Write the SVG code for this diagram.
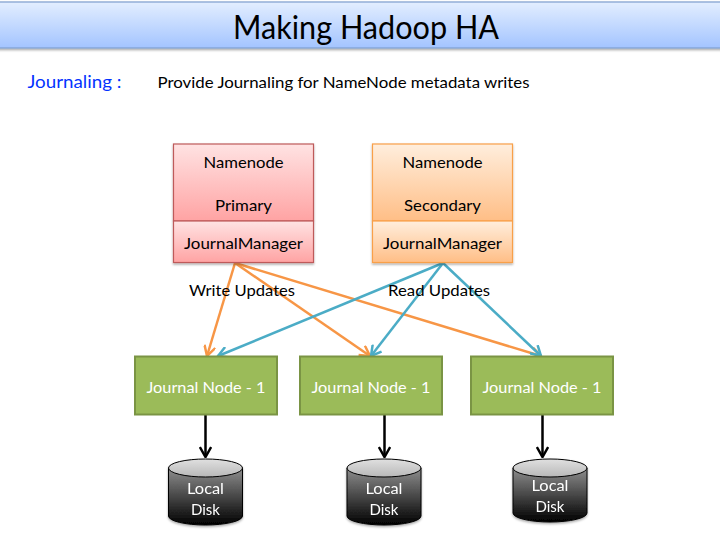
<svg xmlns="http://www.w3.org/2000/svg" width="720" height="540" viewBox="0 0 720 540">
<style>
text{font-family:Lato,"Noto Sans",sans-serif;text-anchor:middle;fill:#000;font-size:16px}
.w{fill:#fff}
.jn{fill:#9bbb59;stroke:#7a9444;stroke-width:2}
.red{fill:url(#gr);stroke:#be5a5a;stroke-width:1.2}
.ora{fill:url(#go);stroke:#f8a04a;stroke-width:1.2}
.o{stroke:#f79646;stroke-width:2.5;fill:none;marker-end:url(#ao)}
.b{stroke:#4bacc6;stroke-width:2.5;fill:none;marker-end:url(#ab)}
.k{stroke:#000;stroke-width:2.5;fill:none;marker-end:url(#ak)}
.cyl{fill:url(#gk);stroke:#000;stroke-width:1}
.top{fill:url(#gc);stroke:#000;stroke-width:1}
</style>
<defs>
<linearGradient id="gt" x1="0" y1="0" x2="0" y2="1"><stop offset="0" stop-color="#e3eeff"/><stop offset="1" stop-color="#a3c4ff"/></linearGradient>
<linearGradient id="gr" x1="0" y1="0" x2="0" y2="1"><stop offset="0" stop-color="#ffe3e3"/><stop offset="1" stop-color="#ffa3a3"/></linearGradient>
<linearGradient id="go" x1="0" y1="0" x2="0" y2="1"><stop offset="0" stop-color="#ffeedd"/><stop offset="1" stop-color="#ffbe86"/></linearGradient>
<linearGradient id="gk" x1="0" y1="0" x2="0" y2="1"><stop offset="0" stop-color="#8e8e8e"/><stop offset="1" stop-color="#000"/></linearGradient>
<linearGradient id="gc" x1="0" y1="0" x2="0" y2="1"><stop offset="0" stop-color="#e0e0e0"/><stop offset="1" stop-color="#b8b8b8"/></linearGradient>
<filter id="sh" x="-5%" y="-10%" width="110%" height="125%"><feDropShadow dx="0" dy="1.5" stdDeviation="1.2" flood-color="#000" flood-opacity=".35"/></filter>
<marker id="ao" viewBox="0 0 10 10" refX="9" refY="5" markerWidth="5" markerHeight="5" orient="auto"><path d="M1 .5L9 5L1 9.500" fill="none" stroke="#f79646" stroke-width="2"/></marker>
<marker id="ab" viewBox="0 0 10 10" refX="9" refY="5" markerWidth="5" markerHeight="5" orient="auto"><path d="M1 .5L9 5L1 9.500" fill="none" stroke="#4bacc6" stroke-width="2"/></marker>
<marker id="ak" viewBox="0 0 10 10" refX="9" refY="5" markerWidth="5" markerHeight="5" orient="auto"><path d="M1 .5L9 5L1 9.500" fill="none" stroke="#000" stroke-width="2"/></marker>
</defs>
<g id="title"><rect x="-2" y="2" width="724" height="46" fill="url(#gt)" stroke="#7f9fcf" stroke-width="1.2" filter="url(#sh)"/>
<text x="366" y="39" style="font-size:32px" textLength="266" lengthAdjust="spacingAndGlyphs">Making Hadoop HA</text></g>
<g id="subtitle"><text x="74.500" y="88" style="font-size:18px;fill:#0433ff" textLength="94" lengthAdjust="spacingAndGlyphs">Journaling :</text>
<text x="343.500" y="88" textLength="372" lengthAdjust="spacingAndGlyphs">Provide Journaling for NameNode metadata writes</text></g>
<g id="connectors">
<path class="o" d="M235 263L207 356"/><path class="o" d="M235 263L370 356"/><path class="o" d="M235 263L541 356"/>
<path class="b" d="M443 263L218 356"/><path class="b" d="M443 263L371 356"/><path class="b" d="M443 263L541 356"/>
<path class="k" d="M205.500 414V457"/><path class="k" d="M384.500 414V457"/><path class="k" d="M542.500 414V457"/>
</g>
<g id="labels"><text x="242" y="296" textLength="106" lengthAdjust="spacingAndGlyphs">Write Updates</text><text x="439" y="296" textLength="102" lengthAdjust="spacingAndGlyphs">Read Updates</text></g>
<g id="nn-primary"><g filter="url(#sh)"><rect class="red" x="173.500" y="144" width="140" height="77"/><rect class="red" x="173.500" y="221" width="140" height="41.500"/></g>
<text x="243.500" y="168" textLength="80" lengthAdjust="spacingAndGlyphs">Namenode</text><text x="243.500" y="211" textLength="57" lengthAdjust="spacingAndGlyphs">Primary</text><text x="243.500" y="249" textLength="119" lengthAdjust="spacingAndGlyphs">JournalManager</text></g>
<g id="nn-secondary"><g filter="url(#sh)"><rect class="ora" x="372.500" y="144" width="140" height="77"/><rect class="ora" x="372.500" y="221" width="140" height="41.500"/></g>
<text x="442.500" y="168" textLength="80" lengthAdjust="spacingAndGlyphs">Namenode</text><text x="442.500" y="211" textLength="77" lengthAdjust="spacingAndGlyphs">Secondary</text><text x="442.500" y="249" textLength="119" lengthAdjust="spacingAndGlyphs">JournalManager</text></g>
<g id="jn1"><rect class="jn" x="135" y="356.500" width="142" height="58"/><text class="w" x="206" y="393" textLength="119" lengthAdjust="spacingAndGlyphs">Journal Node - 1</text></g>
<g id="jn2"><rect class="jn" x="300" y="356.500" width="142" height="58"/><text class="w" x="371" y="393" textLength="119" lengthAdjust="spacingAndGlyphs">Journal Node - 1</text></g>
<g id="jn3"><rect class="jn" x="471" y="356.500" width="142" height="58"/><text class="w" x="542" y="393" textLength="119" lengthAdjust="spacingAndGlyphs">Journal Node - 1</text></g>
<g id="disk1" filter="url(#sh)"><path class="cyl" d="M168.500 468V516A37 9 0 0 0 242.500 516V468Z"/><ellipse class="top" cx="205.500" cy="468" rx="37" ry="9"/><text class="w" x="205.500" y="494" textLength="37" lengthAdjust="spacingAndGlyphs">Local</text><text class="w" x="205.500" y="514.500" textLength="29" lengthAdjust="spacingAndGlyphs">Disk</text></g>
<g id="disk2" filter="url(#sh)"><path class="cyl" d="M347 468V516A37 9 0 0 0 421 516V468Z"/><ellipse class="top" cx="384" cy="468" rx="37" ry="9"/><text class="w" x="384" y="494" textLength="37" lengthAdjust="spacingAndGlyphs">Local</text><text class="w" x="384" y="514.500" textLength="29" lengthAdjust="spacingAndGlyphs">Disk</text></g>
<g id="disk3" filter="url(#sh)"><path class="cyl" d="M513 468V513A37 9 0 0 0 587 513V468Z"/><ellipse class="top" cx="550" cy="468" rx="37" ry="9"/><text class="w" x="550" y="491" textLength="37" lengthAdjust="spacingAndGlyphs">Local</text><text class="w" x="550" y="511.500" textLength="29" lengthAdjust="spacingAndGlyphs">Disk</text></g>
</svg>
